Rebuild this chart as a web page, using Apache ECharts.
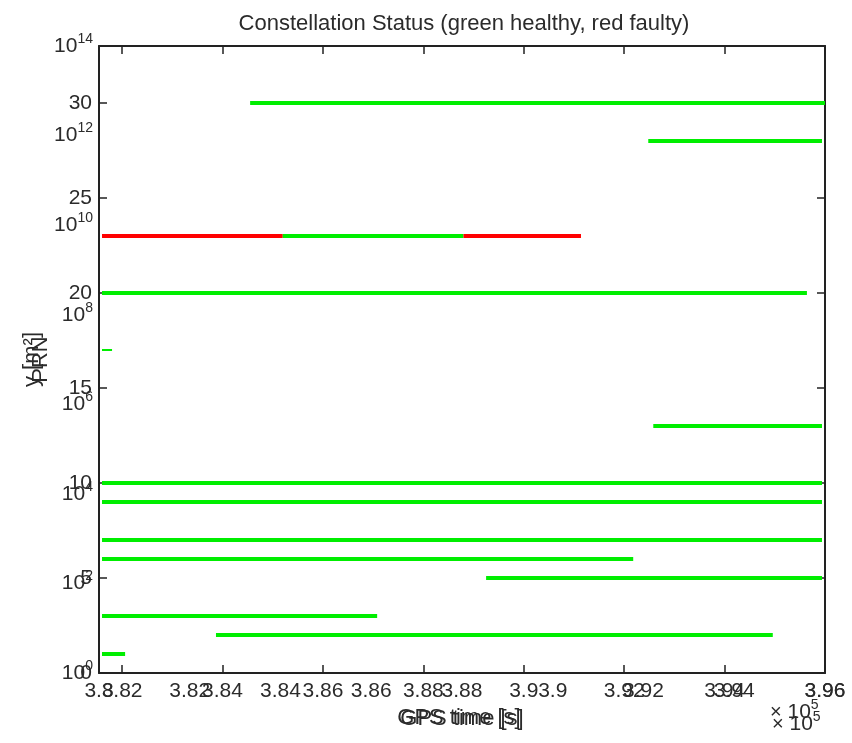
<!DOCTYPE html>
<html>
<head>
<meta charset="utf-8">
<script src="https://cdn.jsdelivr.net/npm/echarts@6/dist/echarts.min.js"></script>
<style>
  html, body { margin: 0; padding: 0; background: #fff; }
  #chart { width: 852px; height: 743px; }
</style>
</head>
<body>
<div id="chart"></div>
<script>
// Satellite availability segments: PRN, GPS start/end time [s], health flag
const segPrn     = [30, 28, 23, 23, 23, 20, 17, 13, 10, 9, 7, 6, 5, 3, 2, 1];
const segStart   = [384550, 392480, 381600, 385200, 388800, 381600, 381600, 392580, 381600, 381600, 381600, 381600, 389250, 381600, 383870, 381600];
const segEnd     = [396000, 395940, 385200, 388800, 391140, 395640, 381800, 395940, 395940, 395940, 395940, 392180, 395940, 387080, 394960, 382060];
const segHealthy = [1, 1, 0, 1, 0, 1, 1, 1, 1, 1, 1, 1, 1, 1, 1, 1];

// Axis extents and tick values
const timeMin = 381540;
const timeMax = 396000;
const timeTicks = [382000, 384000, 386000, 388000, 390000, 392000, 394000, 396000];
const overlayTimeTicks = [3.8, 3.82, 3.84, 3.86, 3.88, 3.9, 3.92, 3.94, 3.96];
const prnMax = 33;
const prnTicks = [0, 5, 10, 15, 20, 25, 30];
const powerTicks = [0, 2, 4, 6, 8, 10, 12, 14];

const FONT = "'Liberation Sans', Arial, sans-serif";
const INK = '#2b2b2b';

const series = segPrn.map((prn, i) => ({
  type: 'line',
  xAxisIndex: 0,
  yAxisIndex: 0,
  symbol: 'none',
  silent: true,
  animation: false,
  lineStyle: {
    color: segHealthy[i] ? '#00ee00' : '#ff0000',
    width: prn === 17 ? 2 : 4,
    cap: 'butt'
  },
  data: [[segStart[i], prn], [segEnd[i], prn]]
}));

const boxLine = { show: true, onZero: false, lineStyle: { color: '#222', width: 2 } };

const option = {
  backgroundColor: '#fff',
  animation: false,
  title: {
    text: 'Constellation Status (green healthy, red faulty)',
    left: 459,
    textAlign: 'center',
    top: 8,
    textStyle: { fontFamily: FONT, fontSize: 22, fontWeight: 'normal', color: INK }
  },
  grid: { left: 99, right: 27, top: 46, bottom: 70, containLabel: false },
  xAxis: [
    {
      type: 'value', min: timeMin, max: timeMax, position: 'bottom',
      axisLine: boxLine,
      axisTick: { show: true, inside: true, length: 8, customValues: timeTicks, lineStyle: { color: '#222', width: 1.5 } },
      axisLabel: {
        customValues: timeTicks, margin: 8,
        fontFamily: FONT, fontSize: 21, color: INK,
        formatter: v => String(+(v / 1e5).toFixed(4))
      },
      splitLine: { show: false },
      name: 'GPS time [s]', nameLocation: 'middle', nameGap: 35,
      nameTextStyle: { fontFamily: FONT, fontSize: 22, color: INK }
    },
    {
      type: 'value', min: 3.8, max: 3.96, position: 'bottom',
      axisLine: { show: false }, axisTick: { show: false },
      axisLabel: {
        customValues: overlayTimeTicks, margin: 8,
        fontFamily: FONT, fontSize: 21, color: INK,
        formatter: v => String(+v.toFixed(2))
      },
      splitLine: { show: false },
      name: 'GPS time [s]', nameLocation: 'middle', nameGap: 34,
      nameTextStyle: { fontFamily: FONT, fontSize: 22, color: INK, padding: [0, 6, 0, 0] }
    },
    {
      type: 'value', min: timeMin, max: timeMax, position: 'top',
      axisLine: boxLine,
      axisTick: { show: true, inside: true, length: 8, customValues: timeTicks, lineStyle: { color: '#222', width: 1.5 } },
      axisLabel: { show: false },
      splitLine: { show: false }
    }
  ],
  yAxis: [
    {
      type: 'value', min: 0, max: prnMax, position: 'left',
      axisLine: boxLine,
      axisTick: { show: true, inside: true, length: 8, customValues: prnTicks, lineStyle: { color: '#222', width: 1.5 } },
      axisLabel: { customValues: prnTicks, margin: 7, fontFamily: FONT, fontSize: 21, color: INK },
      splitLine: { show: false },
      name: 'PRN', nameLocation: 'middle', nameRotate: 90, nameGap: 47,
      nameTextStyle: { fontFamily: FONT, fontSize: 22, color: INK }
    },
    {
      type: 'value', min: 0, max: 14, position: 'left',
      axisLine: { show: false }, axisTick: { show: false },
      axisLabel: {
        customValues: powerTicks, margin: 6,
        formatter: v => '{b|10}{s|' + v + '}',
        rich: {
          b: { fontFamily: FONT, fontSize: 21, color: INK },
          s: { fontFamily: FONT, fontSize: 14, color: INK, padding: [0, 0, 14, 0] }
        }
      },
      splitLine: { show: false },
      name: 'y [m²]', nameLocation: 'middle', nameRotate: 90, nameGap: 47,
      nameTextStyle: { fontFamily: FONT, fontSize: 22, color: INK }
    },
    {
      type: 'value', min: 0, max: prnMax, position: 'right',
      axisLine: boxLine,
      axisTick: { show: true, inside: true, length: 8, customValues: prnTicks, lineStyle: { color: '#222', width: 1.5 } },
      axisLabel: { show: false },
      splitLine: { show: false }
    }
  ],
  graphic: [0, 12].map(dy => ({
    type: 'text',
    left: 770 + dy / 6,
    top: 698 + dy,
    silent: true,
    style: {
      text: '{x|×}{b| 10}{s|5}',
      rich: {
        x: { fontFamily: FONT, fontSize: 20, fill: INK },
        b: { fontFamily: FONT, fontSize: 21, fill: INK },
        s: { fontFamily: FONT, fontSize: 14, fill: INK, padding: [0, 0, 14, 0] }
      }
    }
  })),
  series: series
};

const chart = echarts.init(document.getElementById('chart'), null, { renderer: 'canvas' });
chart.setOption(option);
</script>
</body>
</html>
